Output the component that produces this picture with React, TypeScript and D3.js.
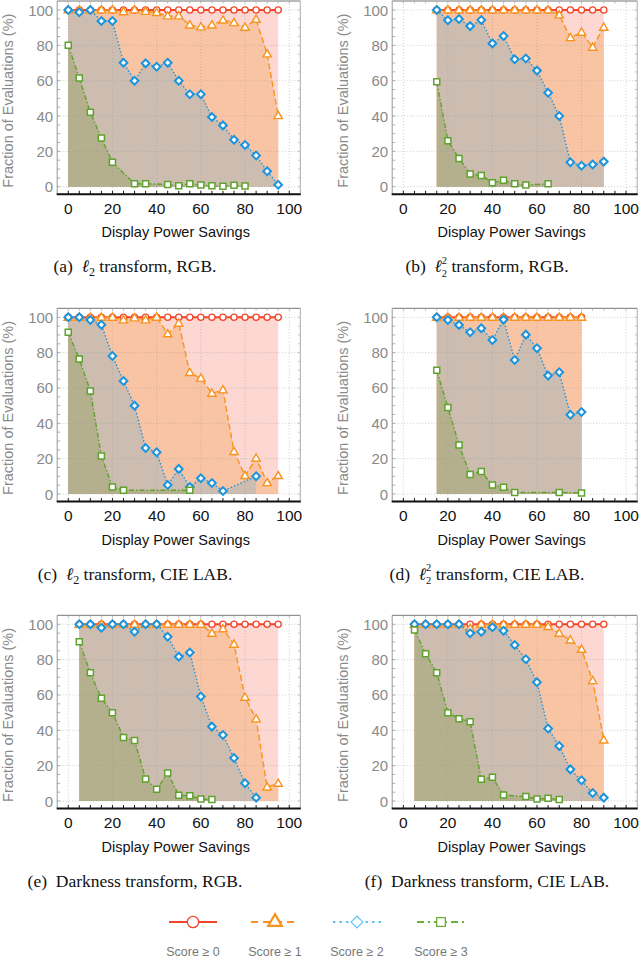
import React from 'react';
import * as d3 from 'd3';

// ---------- DATA ----------
// (a) l2 transform, RGB
const aX = [0, 5, 10, 15, 20, 25, 30, 35, 40, 45, 50, 55, 60, 65, 70, 75, 80, 85, 90, 95];
const a0 = [100, 100, 100, 100, 100, 100, 100, 100, 100, 100, 100, 100, 100, 100, 100, 100, 100, 100, 100, 100];
const a1 = [100, 100, 100, 100, 100, 99, 100, 99.2, 98.5, 96.6, 96.6, 91.5, 90.4, 91.5, 94.3, 92.8, 90.2, 94.7, 75.1, 40.2];
const a2 = [100, 98.7, 100, 93.8, 93.8, 70.2, 60, 69.8, 67.9, 70.2, 60, 52.3, 52.3, 39.4, 34.7, 26.6, 23.6, 17.7, 8.7, 1.1];
const a3X = [0, 5, 10, 15, 20, 30, 35, 45, 50, 55, 60, 65, 70, 75, 80];
const a3 = [80, 61.5, 42.1, 27.5, 13.8, 1.7, 1.7, 1.3, 0.6, 1.7, 0.9, 0.6, 0.2, 0.8, 0.4];

// (b) l2^2 transform, RGB
const bX = [15, 20, 25, 30, 35, 40, 45, 50, 55, 60, 65, 70, 75, 80, 85, 90];
const b0 = [100, 100, 100, 100, 100, 100, 100, 100, 100, 100, 100, 100, 100, 100, 100, 100];
const b1 = [100, 100, 100, 100, 100, 100, 100, 100, 100, 100, 100, 97.2, 84.3, 87.4, 78.9, 90.2];
const b2 = [100, 94.2, 94.9, 90.9, 94.3, 81.1, 85.3, 72.1, 72.6, 65.7, 53.2, 40, 13.8, 11.9, 12.6, 14.2];
const b3X = [15, 20, 25, 30, 35, 40, 45, 50, 55, 65];
const b3 = [59.4, 26, 16, 7.2, 6.4, 2.3, 3.6, 1.7, 0.9, 1.7];

// (c) l2 transform, CIE LAB
const cX = [0, 5, 10, 15, 20, 25, 30, 35, 40, 45, 50, 55, 60, 65, 70, 75, 80, 85, 90, 95];
const c0 = [100, 100, 100, 100, 100, 100, 100, 100, 100, 100, 100, 100, 100, 100, 100, 100, 100, 100, 100, 100];
const c1 = [100, 100, 100, 100, 100, 98.5, 99.6, 98.5, 100, 90.6, 96.6, 68.7, 65.5, 57, 58.9, 24, 10.4, 20.2, 6.4, 10.4];
const c2X = [0, 5, 10, 15, 20, 25, 30, 35, 40, 45, 50, 55, 60, 65, 70, 85];
const c2 = [100, 100, 98.5, 95.8, 78.1, 64, 50, 26, 23.6, 5.1, 14.2, 4, 8.9, 6.2, 1.7, 10];
const c3X = [0, 5, 10, 15, 20, 25, 55];
const c3 = [91.5, 76.4, 58.3, 21.5, 4, 2.1, 2.1];

// (d) l2^2 transform, CIE LAB
const dX = [15, 20, 25, 30, 35, 40, 45, 50, 55, 60, 65, 70, 75, 80];
const d0 = [100, 100, 100, 100, 100, 100, 100, 100, 100, 100, 100, 100, 100, 100];
const d1 = [100, 100, 100, 100, 100, 100, 100, 100, 100, 100, 100, 100, 100, 100];
const d2 = [100, 98.5, 95.7, 91.5, 93.8, 87.2, 98.7, 75.8, 90.2, 82.5, 67, 68.9, 44.9, 46.4];
const d3X = [15, 20, 25, 30, 35, 40, 45, 50, 70, 80];
const d3v = [70, 49, 27.7, 11.1, 12.8, 5.1, 3.8, 0.8, 0.9, 0.6];

// (e) Darkness transform, RGB
const eX = [5, 10, 15, 20, 25, 30, 35, 40, 45, 50, 55, 60, 65, 70, 75, 80, 85, 90, 95];
const e0 = [100, 100, 100, 100, 100, 100, 100, 100, 100, 100, 100, 100, 100, 100, 100, 100, 100, 100, 100];
const e1 = [100, 100, 100, 100, 100, 100, 100, 100, 100, 100, 100, 100, 94.9, 97.4, 88.7, 58.7, 46.4, 7.9, 10];
const e2X = [5, 10, 15, 20, 25, 30, 35, 40, 45, 50, 55, 60, 65, 70, 75, 80, 85];
const e2 = [100, 100, 98.1, 100, 100, 95.8, 100, 100, 93, 81.7, 84, 59.1, 42.1, 37.4, 24.3, 10, 1.9];
const e3X = [5, 10, 15, 20, 25, 30, 35, 40, 45, 50, 55, 60, 65];
const e3 = [90.2, 72.6, 58.1, 50, 36, 34.2, 12.5, 6.6, 15.8, 3.2, 3, 1.1, 0.9];

// (f) Darkness transform, CIE LAB
const fX = [5, 10, 15, 20, 25, 30, 35, 40, 45, 50, 55, 60, 65, 70, 75, 80, 85, 90];
const f0 = [100, 100, 100, 100, 100, 100, 100, 100, 100, 100, 100, 100, 100, 100, 100, 100, 100, 100];
const f1 = [100, 100, 100, 100, 100, 97.7, 100, 100, 100, 100, 100, 100, 98.7, 94.9, 91.1, 85.8, 68.1, 34.5];
const f2 = [100, 100, 100, 100, 100, 94.9, 95.8, 98.3, 96.4, 88.3, 80.2, 67.2, 41, 31.1, 17.9, 11.7, 4.5, 1.9];
const f3X = [5, 10, 15, 20, 25, 30, 35, 40, 45, 55, 60, 65, 70];
const f3 = [96.8, 83.4, 72.6, 50, 46.6, 44.9, 12.3, 13.4, 3.4, 2.5, 1.1, 1.5, 0.8];

const xTicks = [0, 20, 40, 60, 80, 100];
const yTicks = [0, 20, 40, 60, 80, 100];
const minorTicks = d3.range(0, 101, 5);
const legendLabels = ['Score \u2265 0', 'Score \u2265 1', 'Score \u2265 2', 'Score \u2265 3'];

// ---------- STYLE ----------
const SANS = 'Liberation Sans, Arial, Helvetica, sans-serif';
const SERIF = 'Liberation Serif, Times New Roman, serif';
const fillColors = ['#fdd7d1', '#f9c4a4', '#cdbdb1', '#b4af8c'];
const lineColors = ['#f2462b', '#f7931e', '#1b94de', '#5fa22d'];
const legendColors = ['#f2462b', '#f7931e', '#5ec5f2', '#6fae3a'];
const dashes = [undefined, '6,3', '1.5,2', '5,2,1.5,2'];
const GRAY = '#8a8a8a';

const COLS = [{ left: 57.2, right: 300.3 }, { left: 392.2, right: 637.2 }];
const ROW_TOPS = [1, 308.3, 615.3];
const FRAME_H = 193.3;

type Pt = { x: number; y: number };
const zip = (xs: number[], ys: number[]): Pt[] => xs.map((x, i) => ({ x, y: ys[i] }));

function Marker({ kind, x, y, color, big }: { kind: number; x: number; y: number; color: string; big?: boolean }) {
  if (kind === 0) {
    const p = d3.symbol(d3.symbolCircle, big ? 100 : 30)();
    return <path d={p!} transform={`translate(${x},${y})`} fill="#fff" stroke={color} strokeWidth={1.3} />;
  }
  if (kind === 1) {
    const p = d3.symbol(d3.symbolTriangle, big ? 80 : 30)();
    return <path d={p!} transform={`translate(${x},${y + (big ? 0 : 0.5)})`} fill="#fff" stroke={color} strokeWidth={big ? 2.2 : 1.4} />;
  }
  if (kind === 2) {
    const p = d3.symbol(d3.symbolSquare, big ? 70 : 30)();
    return <path d={p!} transform={`translate(${x},${y}) rotate(45)`} fill="#fff" stroke={color} strokeWidth={big ? 1.2 : 2} />;
  }
  const p = d3.symbol(d3.symbolSquare, big ? 75 : 36)();
  return <path d={p!} transform={`translate(${x},${y})`} fill="#fff" stroke={color} strokeWidth={big ? 1.3 : 1.5} />;
}

function Caption({ x, y, label, kind, rest }: { x: number; y: number; label: string; kind: 'l2' | 'l22' | 'none'; rest: string }) {
  return (
    <text x={x} y={y} textAnchor="middle" fontFamily={SERIF} fontSize={17.5} fill="#111" style={{ whiteSpace: 'pre' }}>
      {label + '\u00a0\u00a0'}
      {kind === 'l2' && (
        <>
          <tspan fontStyle="italic">{'\u2113'}</tspan>
          <tspan fontSize={12} dy={4}>2</tspan>
          <tspan dy={-4}>{'\u00a0' + rest}</tspan>
        </>
      )}
      {kind === 'l22' && (
        <>
          <tspan fontStyle="italic">{'\u2113'}</tspan>
          <tspan fontSize={10.5} dy={-8.5}>2</tspan>
          <tspan fontSize={10.5} dx={-5.3} dy={13}>2</tspan>
          <tspan dy={-4.5}>{'\u00a0' + rest}</tspan>
        </>
      )}
      {kind === 'none' && <tspan>{rest}</tspan>}
    </text>
  );
}

function Panel({ col, row, series, caption }: {
  col: number; row: number; series: Pt[][];
  caption: { label: string; kind: 'l2' | 'l22' | 'none'; rest: string };
}) {
  const { left, right } = COLS[col];
  const top = ROW_TOPS[row];
  const bottom = top + FRAME_H;
  const x = d3.scaleLinear().domain([-5, 105]).range([left, right]);
  const y = d3.scaleLinear().domain([-4.3, 105.1]).range([bottom, top]);
  const area = d3.area<Pt>().x(d => x(d.x)).y0(y(0)).y1(d => y(d.y));
  const line = d3.line<Pt>().x(d => x(d.x)).y(d => y(d.y));
  const cx = (left + right) / 2;
  const capX = col === 0 ? 135 : 487;
  return (
    <g>
      {series.map((s, i) => (
        <path key={'f' + i} d={area(s)!} fill={fillColors[i]} />
      ))}
      {/* grid */}
      {xTicks.map(t => (
        <line key={'gx' + t} x1={x(t)} x2={x(t)} y1={top} y2={bottom} stroke="#9a9a9a" strokeOpacity={0.6} strokeWidth={0.8} strokeDasharray="1,2" />
      ))}
      {yTicks.map(t => (
        <line key={'gy' + t} x1={left} x2={right} y1={y(t)} y2={y(t)} stroke="#9a9a9a" strokeOpacity={0.6} strokeWidth={0.8} strokeDasharray="1,2" />
      ))}
      {/* frame */}
      <line x1={left} x2={right} y1={top} y2={top} stroke="#777" strokeWidth={1} />
      <line x1={left} x2={left} y1={top} y2={bottom} stroke="#999" strokeWidth={1} />
      <line x1={right} x2={right} y1={top} y2={bottom} stroke="#aaa" strokeWidth={1} />
      {minorTicks.map(t => (
        <g key={'mt' + t}>
          <line x1={x(t)} x2={x(t)} y1={bottom} y2={bottom - 3.5} stroke="#111" strokeWidth={1} />
          <line x1={x(t)} x2={x(t)} y1={top} y2={top + 2.5} stroke="#aaa" strokeWidth={0.8} />
          <line x1={left} x2={left + 3} y1={y(t)} y2={y(t)} stroke="#999" strokeWidth={0.8} />
          <line x1={right} x2={right - 2.5} y1={y(t)} y2={y(t)} stroke="#bbb" strokeWidth={0.8} />
        </g>
      ))}
      <line x1={left - 0.5} x2={right + 0.5} y1={bottom} y2={bottom} stroke="#111" strokeWidth={2} />
      {/* series lines + markers */}
      {series.map((s, i) => (
        <g key={'s' + i}>
          <path d={line(s)!} fill="none" stroke={lineColors[i]} strokeWidth={i === 0 ? 2 : 1.4} strokeDasharray={dashes[i]} />
          {s.map((p, j) => (
            <Marker key={j} kind={i} x={x(p.x)} y={y(p.y)} color={lineColors[i]} />
          ))}
        </g>
      ))}
      {/* tick labels */}
      {yTicks.map(t => (
        <text key={'yl' + t} x={left - 4} y={y(t) + 5.5} textAnchor="end" fontFamily={SANS} fontSize={15} fill={GRAY}>{t}</text>
      ))}
      {xTicks.map(t => (
        <text key={'xl' + t} x={x(t)} y={bottom + 19.5} textAnchor="middle" fontFamily={SANS} fontSize={15.5} fill="#111">{t}</text>
      ))}
      <text x={cx - 3} y={bottom + 43} textAnchor="middle" fontFamily={SANS} fontSize={14.5} fill="#111">Display Power Savings</text>
      <text transform={`translate(${left - 44},${(top + bottom) / 2 + 3}) rotate(-90)`} textAnchor="middle" fontFamily={SANS} fontSize={14.5} fill={GRAY}>Fraction of Evaluations (%)</text>
      <Caption x={capX} y={bottom + 78} label={caption.label} kind={caption.kind} rest={caption.rest} />
    </g>
  );
}

export default function App() {
  const panels = [
    { col: 0, row: 0, series: [zip(aX, a0), zip(aX, a1), zip(aX, a2), zip(a3X, a3)], caption: { label: '(a)', kind: 'l2' as const, rest: 'transform, RGB.' } },
    { col: 1, row: 0, series: [zip(bX, b0), zip(bX, b1), zip(bX, b2), zip(b3X, b3)], caption: { label: '(b)', kind: 'l22' as const, rest: 'transform, RGB.' } },
    { col: 0, row: 1, series: [zip(cX, c0), zip(cX, c1), zip(c2X, c2), zip(c3X, c3)], caption: { label: '(c)', kind: 'l2' as const, rest: 'transform, CIE LAB.' } },
    { col: 1, row: 1, series: [zip(dX, d0), zip(dX, d1), zip(dX, d2), zip(d3X, d3v)], caption: { label: '(d)', kind: 'l22' as const, rest: 'transform, CIE LAB.' } },
    { col: 0, row: 2, series: [zip(eX, e0), zip(eX, e1), zip(e2X, e2), zip(e3X, e3)], caption: { label: '(e)', kind: 'none' as const, rest: 'Darkness transform, RGB.' } },
    { col: 1, row: 2, series: [zip(fX, f0), zip(fX, f1), zip(fX, f2), zip(f3X, f3)], caption: { label: '(f)', kind: 'none' as const, rest: 'Darkness transform, CIE LAB.' } },
  ];
  const legendX = [193, 275, 357, 441];
  return (
    <svg width={639} height={964} style={{ position: 'absolute', left: 0, top: 0, background: '#fff' }}>
      <rect width={639} height={964} fill="#fff" />
      {panels.map((p, i) => (
        <Panel key={i} col={p.col} row={p.row} series={p.series} caption={p.caption} />
      ))}
      {legendX.map((lx, i) => (
        <g key={'lg' + i}>
          <line x1={lx - 24} x2={lx + 24} y1={922} y2={922} stroke={legendColors[i]} strokeWidth={2} strokeDasharray={i === 0 ? undefined : i === 1 ? '7,5' : i === 2 ? '2.5,4' : '7,4,2,4'} />
          <Marker kind={i} x={lx} y={922} color={legendColors[i]} big />
          <text x={lx} y={956} textAnchor="middle" fontFamily={SANS} fontSize={12.5} fill="#777">{legendLabels[i]}</text>
        </g>
      ))}
    </svg>
  );
}
